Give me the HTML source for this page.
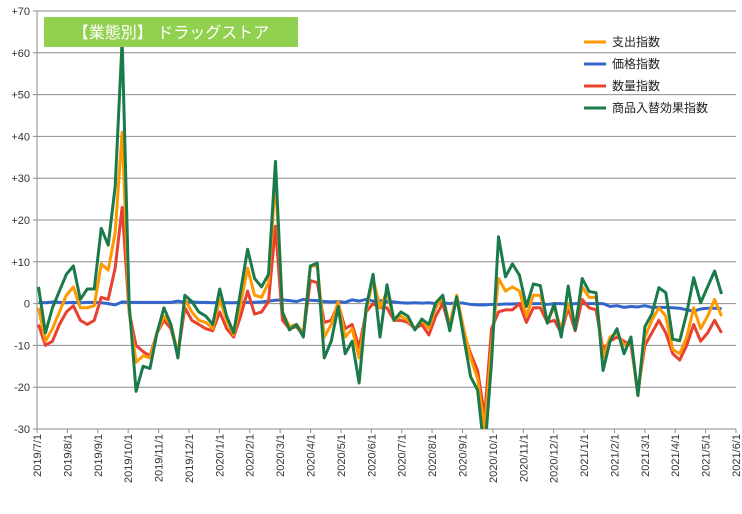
<!DOCTYPE html>
<html><head><meta charset="utf-8"><style>
body{margin:0;background:#fff;font-family:"Liberation Sans","Noto Sans CJK JP",sans-serif}
svg text{font-family:"Liberation Sans","Noto Sans CJK JP",sans-serif}
</style></head><body>
<svg id="c" width="742" height="509"></svg>
<script>
const green=[4,-7,-1,3,7,9,1,3.5,3.5,18,14,28,63,0,-21,-15,-15.5,-7,-1,-5,-13,2,0.5,-2,-3,-5,3.5,-3,-7,3,13,6,4,7,34,-2,-6.3,-5,-8,9,9.7,-13,-9,-0.7,-12,-9,-19,-1,7,-8,4.5,-4,-2,-3,-6.3,-3.7,-5,0.2,2,-6.5,1.6,-8,-17.5,-20.7,-36,-14,16,6.4,9.5,6.8,-0.7,4.7,4.3,-4.7,0,-8,4.2,-6.3,6,2.9,2.6,-16,-9,-6,-12,-8,-22,-5.5,-2.5,3.8,2.6,-8.5,-8.9,-2.3,6.2,0.2,4,7.8,2.3];
const orange=[-1,-9,-6,-2,2,4,-1,-1,-0.5,9.5,8,17,41,-2,-14,-12.5,-13,-7,-3,-5,-12,1,-2,-4,-4.5,-6,1,-4,-7.5,0,8.5,2,1.5,5,30,-2,-5.5,-5,-7,9,9,-8,-5,0.5,-8,-6,-13,-2,6,-1,3,-4,-3,-4,-6,-4,-6,-1,1.5,-5,2,-6,-13,-18,-30,-10,6,3,4,3,-3,2,2,-4,-1,-6,0,-5,4,1.5,1.5,-13,-8,-7,-10,-9,-22,-8,-4,-1,-3,-11,-12,-8,-1,-6,-3,1,-3];
const red=[-5,-10,-9,-5,-2,-0.5,-4,-5,-4,1.5,1,8.5,23,-2,-10,-11.5,-12.5,-7,-4,-6,-12,-1,-4,-5,-6,-6.5,-2,-6,-8,-3,3,-2.5,-2,0.5,18.5,-4,-6,-5.5,-7.5,5.5,5,-4.5,-4,0,-6,-5,-10.5,-2,0,-1,-1,-4,-4,-4.5,-6,-5,-7.5,-3,0,-6,1.5,-7,-12,-16,-27,-6,-2,-1.5,-1.5,0,-4.5,-1,-1,-4.5,-4,-7,-1,-6.5,1,-1,-1.5,-11,-9,-8,-9,-10,-21,-10,-7,-4,-7,-12,-13.5,-10,-5,-9,-7,-4,-7];
const blue=[0.3,0.2,0.4,0.3,0.2,0.3,0.2,0.3,0.3,0.2,0,-0.3,0.4,0.3,0.3,0.3,0.3,0.3,0.3,0.3,0.6,0.3,0.4,0.3,0.3,0.2,0.3,0.2,0.2,0.3,0.3,0.3,0.4,0.6,0.8,0.9,0.7,0.5,1,0.8,0.7,0.5,0.4,0.5,0.3,0.9,0.6,1,0.6,0.7,0.5,0.4,0.2,0.1,0.2,0.1,0.2,0,0.2,0,0.2,0.1,-0.2,-0.3,-0.3,-0.2,-0.2,-0.1,-0.1,0,-0.1,0,0,-0.2,0,0,-0.2,0,0,0,0,0,-0.7,-0.5,-0.9,-0.7,-0.8,-0.5,-0.9,-0.9,-0.9,-1,-1.1,-1.5,-1.8,-1.3,-1.1,-1.1,-1.2];
const yTicks=[70,60,50,40,30,20,10,0,-10,-20,-30];
const xLabels=["2019/7/1","2019/8/1","2019/9/1","2019/10/1","2019/11/1","2019/12/1","2020/1/1","2020/2/1","2020/3/1","2020/4/1","2020/5/1","2020/6/1","2020/7/1","2020/8/1","2020/9/1","2020/10/1","2020/11/1","2020/12/1","2021/1/1","2021/2/1","2021/3/1","2021/4/1","2021/5/1","2021/6/1"];
const NS="http://www.w3.org/2000/svg";
const svg=document.getElementById('c');
const X0=37,X1=736,Y0=11,Y1=429;
const yS=v=>Y0+(70-v)*(Y1-Y0)/100;
const xS=i=>38.5+i*6.97;
const mX=k=>X0+k*(X1-X0)/23;
function mk(t,a){const e=document.createElementNS(NS,t);for(const k in a)e.setAttribute(k,a[k]);svg.appendChild(e);return e;}
const clip=mk('clipPath',{id:'pc'});
const cr=document.createElementNS(NS,'rect');cr.setAttribute('x',X0);cr.setAttribute('y',0);cr.setAttribute('width',X1-X0);cr.setAttribute('height',Y1);clip.appendChild(cr);
yTicks.forEach(v=>{
 const l=mk('line',{x1:X0-4,x2:X1,y1:yS(v),y2:yS(v),stroke:'#8c8c8c','stroke-width':1});
 
 
 const t=mk('text',{x:30,y:yS(v)+4,'text-anchor':'end','font-size':11,fill:'#333'});
 t.textContent=(v>0?'+':'')+v;
 
 
});
const ax=mk('line',{x1:X0,x2:X0,y1:Y0,y2:Y1,stroke:'#8c8c8c'});


xLabels.forEach((s,k)=>{
 const x=mX(k);
 const tk=mk('line',{x1:x,x2:x,y1:Y1,y2:Y1+4,stroke:'#8c8c8c'});
 
 
 const t=mk('text',{x:0,y:0,'text-anchor':'end','font-size':11,fill:'#333',transform:`translate(${x+4},${Y1+5}) rotate(-90)`});
 t.textContent=s;
 
 
});
function line(arr,col,name){
 const p=mk('polyline',{points:arr.map((v,i)=>xS(i)+','+yS(v)).join(' '),fill:'none',stroke:col,'stroke-width':3,'stroke-linejoin':'round','clip-path':'url(#pc)'});
 
 
}
line(blue,'#3366CC','series-price');
line(red,'#E8412F','series-quantity');
line(orange,'#FF9900','series-spending');
line(green,'#1B7A4A','series-mix-effect');
const tb=mk('rect',{x:44,y:17,width:254,height:30,fill:'#92D050'});


const tt=mk('text',{x:171,y:38,'text-anchor':'middle','font-size':16,fill:'#fff'});
tt.textContent='【業態別】 ドラッグストア';


const leg=[['支出指数','#FF9900'],['価格指数','#3366CC'],['数量指数','#E8412F'],['商品入替効果指数','#1B7A4A']];
leg.forEach((d,i)=>{
 const y=42+i*22;
 const l=mk('line',{x1:584,x2:606,y1:y,y2:y,stroke:d[1],'stroke-width':3});
 
 
 const t=mk('text',{x:612,y:y+4,'font-size':12,fill:'#222'});
 t.textContent=d[0];
 
 
});
</script>
</body></html>
